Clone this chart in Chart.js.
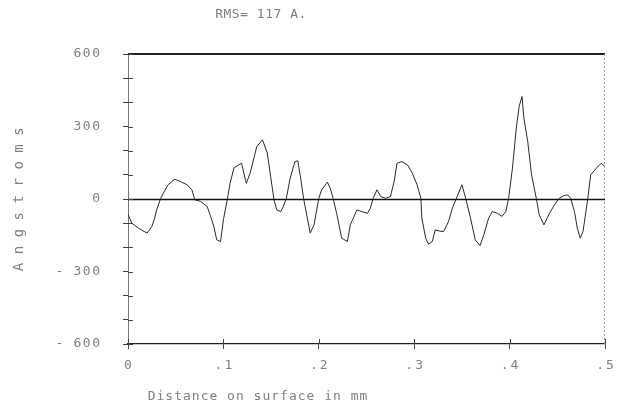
<!DOCTYPE html>
<html>
<head>
<meta charset="utf-8">
<script src="https://cdn.jsdelivr.net/npm/chart.js@4.4.1/dist/chart.umd.min.js"></script>
<style>
  html, body { margin: 0; padding: 0; background: #fff; }
  #wrap { width: 617px; height: 419px; }
</style>
</head>
<body>
<div id="wrap"><canvas id="profile" width="617" height="419"></canvas></div>
<script>
// distance along surface (mm) and height (Angstroms)
var distance = [
  0.000, 0.004, 0.011, 0.020, 0.025, 0.028, 0.030, 0.034, 0.037, 0.042,
  0.049, 0.055, 0.062, 0.067, 0.070, 0.076, 0.083, 0.086, 0.090, 0.093,
  0.097, 0.100, 0.104, 0.107, 0.111, 0.116, 0.119, 0.124, 0.128, 0.135,
  0.141, 0.146, 0.149, 0.153, 0.156, 0.160, 0.162, 0.166, 0.170, 0.175,
  0.178, 0.181, 0.184, 0.188, 0.191, 0.195, 0.200, 0.203, 0.209, 0.212,
  0.215, 0.219, 0.224, 0.230, 0.233, 0.240, 0.245, 0.251, 0.254, 0.257,
  0.261, 0.265, 0.270, 0.275, 0.279, 0.282, 0.287, 0.293, 0.298, 0.303,
  0.307, 0.308, 0.312, 0.315, 0.319, 0.322, 0.328, 0.331, 0.336, 0.340,
  0.345, 0.350, 0.354, 0.359, 0.364, 0.369, 0.373, 0.378, 0.382, 0.387,
  0.392, 0.396, 0.399, 0.403, 0.407, 0.410, 0.413, 0.415, 0.419, 0.423,
  0.428, 0.431, 0.436, 0.441, 0.447, 0.452, 0.457, 0.461, 0.464, 0.468,
  0.471, 0.474, 0.477, 0.482, 0.485, 0.491, 0.496, 0.500
];
var height = [
  -64, -100, -121, -141, -114, -79, -45, 0, 24, 59,
  82, 72, 59, 38, -3, -10, -31, -65, -114, -169,
  -176, -86, -3, 65, 128, 141, 148, 65, 107, 217,
  245, 190, 107, -3, -45, -52, -38, 3, 86, 155,
  158, 86, 3, -79, -141, -107, 3, 38, 70, 45,
  3, -65, -162, -176, -107, -45, -52, -59, -38, 3,
  38, 10, 3, 10, 72, 148, 155, 141, 107, 59,
  3, -79, -162, -187, -176, -128, -134, -134, -93, -38,
  10, 59, 3, -79, -169, -193, -148, -79, -52, -59,
  -72, -52, 3, 128, 293, 383, 424, 334, 238, 100,
  3, -65, -107, -65, -24, 3, 14, 17, 3, -52,
  -121, -162, -134, 3, 100, 128, 148, 134
];
var yMajor = [600, 300, 0, -300, -600];
var xTicks = [0, 0.1, 0.2, 0.3, 0.4, 0.5];

var chartTitle = 'RMS= 117 A.';
var xTitle = 'Distance on surface in mm';
var yTitle = 'Angstroms';

var textColor = '#808080';
var monoFont = '"DejaVu Sans Mono", "Liberation Mono", monospace';

var points = distance.map(function(d, i) { return { x: d, y: height[i] }; });

function xLabel(v) {
    var r = Math.round(v * 10) / 10;
    if (r === 0) return '0';
    return r.toFixed(1).replace(/^0/, '');
}

// frame, zero line, inward tick marks, tick labels and titles
var plotterDecor = {
    id: 'plotterDecor',
    afterDraw: function(chart) {
        var ctx = chart.ctx;
        var a = chart.chartArea;
        var xs = chart.scales.x, ys = chart.scales.y;
        ctx.save();
        ctx.setLineDash([]);
        ctx.globalAlpha = 1;
        var left = Math.round(xs.getPixelForValue(0));
        var right = Math.round(xs.getPixelForValue(0.5));
        var top = Math.round(ys.getPixelForValue(600));
        // top frame
        ctx.fillStyle = '#222222';
        ctx.fillRect(left, top - 1, right - left, 2);
        // right frame, dotted
        ctx.fillStyle = '#9a9a9a';
        for (var yy = top; yy < a.bottom; yy += 4) {
            ctx.fillRect(right - 1, yy, 1, 2);
        }
        // zero line
        var y0 = Math.round(ys.getPixelForValue(0)) + 0.5;
        ctx.strokeStyle = '#111';
        ctx.lineWidth = 1.3;
        ctx.beginPath();
        ctx.moveTo(a.left, y0);
        ctx.lineTo(a.right, y0);
        ctx.stroke();
        // inward ticks
        ctx.strokeStyle = '#444';
        ctx.lineWidth = 1;
        ys.ticks.forEach(function(t) {
            var py = Math.round(ys.getPixelForValue(t.value)) + 0.5;
            ctx.beginPath();
            ctx.moveTo(a.left, py);
            ctx.lineTo(a.left + 5, py);
            ctx.stroke();
        });
        xs.ticks.forEach(function(t) {
            var px = Math.round(xs.getPixelForValue(t.value)) + 0.5;
            ctx.beginPath();
            ctx.moveTo(px, a.bottom);
            ctx.lineTo(px, a.bottom - 5);
            ctx.stroke();
        });
        // tick labels
        ctx.fillStyle = textColor;
        ctx.font = '13px ' + monoFont;
        ctx.textBaseline = 'middle';
        yMajor.forEach(function(v) {
            var py = ys.getPixelForValue(v);
            var num = String(Math.abs(v));
            ctx.letterSpacing = '1.5px';
            var w = ctx.measureText(num).width - 1.5;
            ctx.textAlign = 'left';
            ctx.fillText(num, 100 - w, py);
            if (v < 0) {
                ctx.letterSpacing = '0px';
                ctx.fillText('-', 100 - w - 18, py);
            }
        });
        ctx.letterSpacing = '2px';
        xTicks.forEach(function(v) {
            var txt = xLabel(v);
            var w = ctx.measureText(txt).width - 2;
            ctx.textAlign = 'left';
            ctx.fillText(txt, xs.getPixelForValue(v) - w / 2, 366);
        });
        // titles
        ctx.textAlign = 'center';
        ctx.letterSpacing = '0.5px';
        ctx.fillText(chartTitle, 261, 15);
        ctx.letterSpacing = '1px';
        ctx.fillText(xTitle, 258, 397);
        ctx.translate(19, 199);
        ctx.rotate(-Math.PI / 2);
        ctx.font = '14px ' + monoFont;
        ctx.letterSpacing = '8.5px';
        ctx.fillText(yTitle, 4, 0);
        ctx.restore();
    }
};

new Chart(document.getElementById('profile').getContext('2d'), {
    type: 'line',
    data: {
        datasets: [{
            data: points,
            borderColor: '#2a2a2a',
            borderWidth: 1,
            pointRadius: 0,
            tension: 0,
            fill: false
        }]
    },
    options: {
        responsive: false,
        animation: false,
        layout: { padding: { top: 54, right: 12, left: 0, bottom: 0 } },
        plugins: {
            legend: { display: false },
            title: { display: false },
            tooltip: { enabled: false }
        },
        scales: {
            x: {
                type: 'linear',
                min: 0,
                max: 0.5,
                afterBuildTicks: function(scale) {
                    scale.ticks = xTicks.map(function(v) { return { value: v }; });
                },
                afterFit: function(scale) { scale.height = 75; },
                ticks: { display: false },
                grid: { drawOnChartArea: false, drawTicks: true, tickLength: 5, color: '#444' },
                border: { display: true, color: '#222', width: 1.2 }
            },
            y: {
                min: -600,
                max: 600,
                ticks: { stepSize: 100, display: false },
                afterFit: function(scale) { scale.width = 128; },
                grid: { drawOnChartArea: false, drawTicks: true, tickLength: 5, color: '#444' },
                border: { display: true, color: '#777', width: 1, dash: [2, 2] }
            }
        }
    },
    plugins: [plotterDecor]
});
</script>
</body>
</html>
